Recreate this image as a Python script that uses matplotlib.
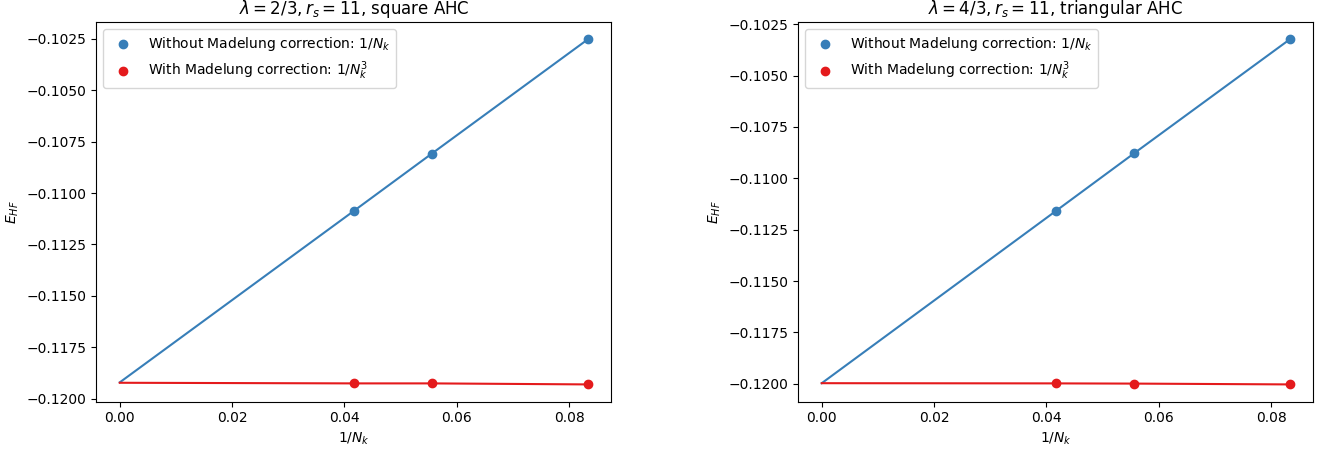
import matplotlib
matplotlib.use('Agg')
import matplotlib.pyplot as plt

# 1/N_k para N_k = 24, 18, 12
inv_nk = [1 / 24, 1 / 18, 1 / 12]

# Valores E_HF
sq_sin = [-0.11087, -0.10808, -0.10252]
sq_con = [-0.11926, -0.11926, -0.11931]
sq_sin_0 = -0.11921
sq_con_0 = -0.11923

tri_sin = [-0.11159, -0.10879, -0.10323]
tri_con = [-0.11998, -0.11999, -0.12003]
tri_sin_0 = -0.11997
tri_con_0 = -0.11997

titulos = [r'$\lambda = 2/3, r_s = 11$, square AHC',
           r'$\lambda = 4/3, r_s = 11$, triangular AHC']

azul = '#377eb8'
rojo = '#e41a1c'

fig = plt.figure(figsize=(13.31, 4.53), dpi=100)
ax1 = fig.add_axes([0.0724, 0.1133, 0.3869, 0.8381])
ax2 = fig.add_axes([0.5998, 0.1133, 0.3869, 0.8381])

datos = [(ax1, sq_sin, sq_con, sq_sin_0, sq_con_0),
         (ax2, tri_sin, tri_con, tri_sin_0, tri_con_0)]

for (ax, sin, con, sin0, con0), titulo in zip(datos, titulos):
    x_linea = [0.0] + inv_nk
    ax.scatter(inv_nk, sin, color=azul,
               label=r'Without Madelung correction: $1/N_k$')
    ax.scatter(inv_nk, con, color=rojo,
               label=r'With Madelung correction: $1/N_k^3$')
    ax.plot(x_linea, [sin0] + sin, color=azul)
    ax.plot(x_linea, [con0] + con, color=rojo)
    ax.set_title(titulo)
    ax.set_xlabel(r'$1/N_k$')
    ax.set_ylabel(r'$E_{HF}$')
    ax.legend(loc='upper left')

fig.savefig('out.png', dpi=100)
